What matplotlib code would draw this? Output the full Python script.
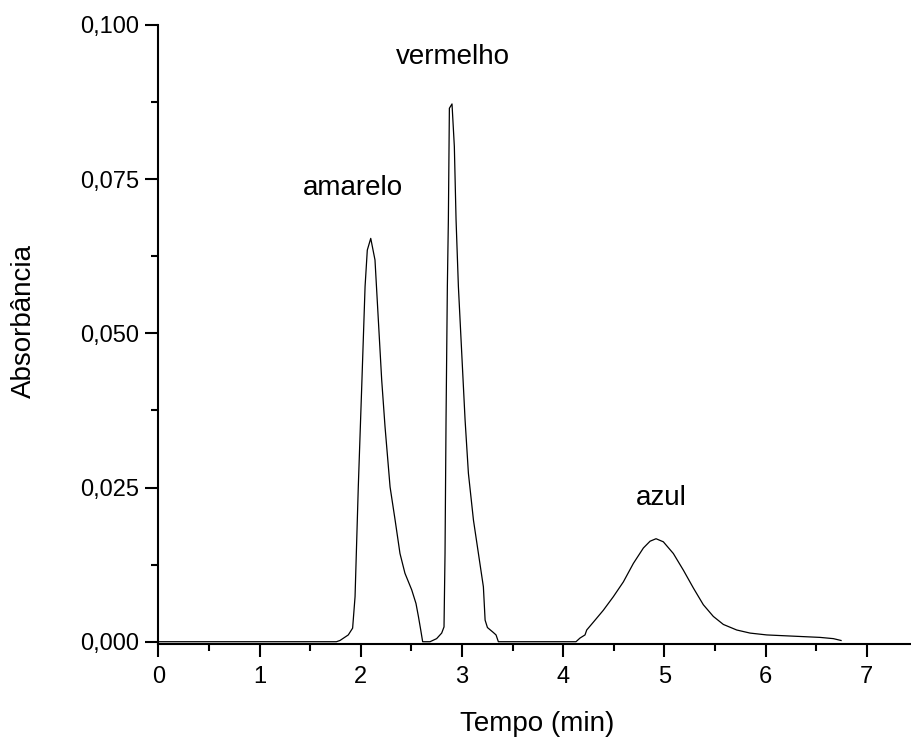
import numpy as np
import matplotlib
matplotlib.use("Agg")
import matplotlib.pyplot as plt
from matplotlib.ticker import MultipleLocator, FuncFormatter

plt.rcParams['font.family'] = ['Liberation Sans', 'DejaVu Sans']

# chromatogram
tempo = [0.0, 1.0, 1.76, 1.795, 1.877, 1.92, 1.944, 1.976, 2.01, 2.043, 2.065, 2.099,
         2.141, 2.174, 2.207, 2.24, 2.29, 2.34, 2.388, 2.437, 2.504, 2.546, 2.57, 2.593,
         2.612, 2.685, 2.75, 2.80, 2.823, 2.833, 2.843, 2.856, 2.866, 2.876, 2.902, 2.925,
         2.942, 2.965, 2.998, 3.031, 3.064, 3.114, 3.163, 3.212, 3.229, 3.252, 3.31, 3.337,
         3.36, 4.127, 4.167, 4.216, 4.233, 4.3, 4.397, 4.496, 4.595, 4.694, 4.793, 4.859,
         4.918, 4.99, 5.089, 5.188, 5.287, 5.385, 5.484, 5.583, 5.715, 5.847, 6.012, 6.275,
         6.539, 6.67, 6.746]
absorbancia = [0.0, 0.0, 0.0, 0.0002, 0.0011, 0.0022, 0.0073, 0.0251, 0.0414, 0.0576, 0.0635, 0.0654,
               0.0619, 0.0522, 0.0425, 0.0349, 0.0251, 0.0197, 0.0143, 0.0111, 0.0084, 0.0062, 0.0041, 0.0019,
               0.0, 0.0, 0.0005, 0.0014, 0.0024, 0.0143, 0.036, 0.0576, 0.0684, 0.0865, 0.0872, 0.0803,
               0.0684, 0.0576, 0.0468, 0.036, 0.0273, 0.0197, 0.0143, 0.0089, 0.0035, 0.0023, 0.0015, 0.0011,
               0.0, 0.0, 0.0006, 0.0011, 0.0019, 0.0032, 0.0051, 0.0073, 0.0097, 0.0127, 0.0152, 0.0163,
               0.0167, 0.0162, 0.0143, 0.0116, 0.0087, 0.006, 0.0041, 0.0028, 0.0019, 0.0014, 0.0011, 0.0009,
               0.0007, 0.0005, 0.0002]

picos = ['amarelo', 'vermelho', 'azul']
picos_x = [1.924, 2.915, 4.972]
picos_y = [0.0725, 0.0936, 0.0222]

W, H = 911, 738
fig = plt.figure(figsize=(W / 100, H / 100), dpi=100)
ax = fig.add_axes([158.3 / W, 94 / H, 753 / W, 619 / H])

ax.plot(tempo, absorbancia, color='black', lw=0.9)

for nome, px, py in zip(picos, picos_x, picos_y):
    ax.text(px, py, nome, ha='center', va='baseline', fontsize=20)

ax.set_xlim(0, 7.44)
ax.set_ylim(-0.00037, 0.1)

ax.xaxis.set_major_locator(MultipleLocator(1))
ax.xaxis.set_minor_locator(MultipleLocator(0.5))
ax.yaxis.set_major_locator(MultipleLocator(0.025))
ax.yaxis.set_minor_locator(MultipleLocator(0.0125))
ax.yaxis.set_major_formatter(FuncFormatter(lambda v, p: f"{v:.3f}".replace('.', ',')))

ax.spines['top'].set_visible(False)
ax.spines['right'].set_visible(False)
ax.spines['left'].set_linewidth(1.5)
ax.spines['bottom'].set_linewidth(1.5)
ax.tick_params(which='major', direction='out', length=9.5, width=1.5, labelsize=17, pad=4)
ax.tick_params(axis='x', which='major', pad=6)
ax.tick_params(which='minor', direction='out', length=5, width=1.5)

fig.text(537 / W, 1 - 731 / H, 'Tempo (min)', ha='center', va='baseline', fontsize=20)
fig.text(24 / W, 1 - 321 / H, 'Absorbância', ha='center', va='center', fontsize=20, rotation=90)

fig.savefig('out.png', dpi=100)
